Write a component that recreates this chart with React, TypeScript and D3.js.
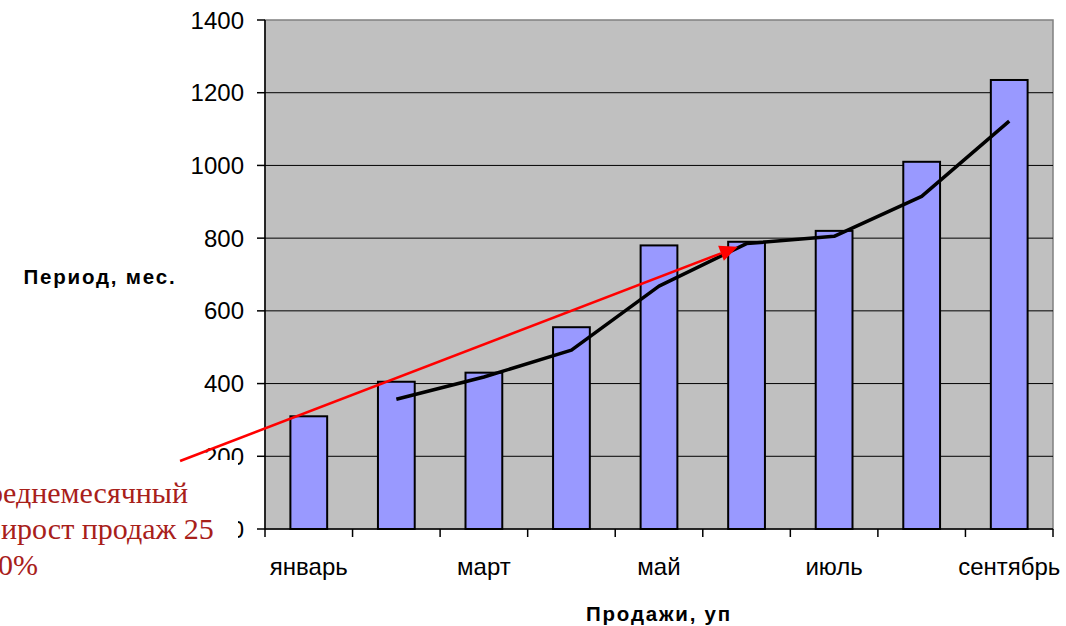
import React from "react";
import * as d3 from "d3";

// Monthly sales figures
const months = ["январь", "февраль", "март", "апрель", "май", "июнь", "июль", "август", "сентябрь"];
const sales = [310, 405, 430, 555, 780, 790, 820, 1010, 1235];
// Two-period moving average, from февраль to сентябрь
const movingAvgMonths = months.slice(1);
const movingAvg = [357, 418, 492, 668, 785, 805, 915, 1122];
const yTicks = [0, 200, 400, 600, 800, 1000, 1200, 1400];
const labeledMonths = ["январь", "март", "май", "июль", "сентябрь"];
// Annotation arrow, in (month index, value) units
const arrowFrom = { i: -0.97, v: 187 };
const arrowTo = { i: 5.4, v: 776 };
const noteLines = [
  { text: "Среднемесячный", x: -32 },
  { text: "прирост продаж 25", x: -30 },
  { text: "0%", x: -2 },
];

const W = 1066;
const H = 626;
const plot = { left: 265, right: 1053, top: 20, bottom: 529 };
const sans = "Arial, 'Liberation Sans', sans-serif";

export default function App() {
  const x = d3.scaleBand<string>().domain(months).range([plot.left, plot.right]).padding(0);
  const xi = d3.scaleLinear().domain([0, months.length]).range([plot.left, plot.right]);
  const y = d3.scaleLinear().domain([0, 1400]).range([plot.bottom, plot.top]);
  const bw = x.bandwidth() * 0.42;

  const line = d3
    .line<number>()
    .x((_, k) => (x(movingAvgMonths[k]) as number) + x.bandwidth() / 2)
    .y((d) => y(d));

  const ax1 = xi(arrowFrom.i), ay1 = y(arrowFrom.v);
  const ax2 = xi(arrowTo.i), ay2 = y(arrowTo.v);
  const ang = Math.atan2(ay2 - ay1, ax2 - ax1);
  const headLen = 18, headW = 8;
  const bx = ax2 - headLen * Math.cos(ang), by = ay2 - headLen * Math.sin(ang);
  const head = [
    [ax2, ay2],
    [bx + headW * Math.sin(ang), by - headW * Math.cos(ang)],
    [bx - headW * Math.sin(ang), by + headW * Math.cos(ang)],
  ];

  const boundaries = d3.range(months.length + 1).map((k) => xi(k));

  return (
    <svg
      width={W}
      height={H}
      style={{ position: "absolute", left: 0, top: 0, background: "#fff" }}
      fontFamily={sans}
    >
      <rect x={0} y={0} width={W} height={H} fill="#fff" />
      {/* plot area */}
      <rect
        x={plot.left}
        y={plot.top}
        width={plot.right - plot.left}
        height={plot.bottom - plot.top}
        fill="#C0C0C0"
        stroke="#808080"
        strokeWidth={1.5}
      />
      {/* gridlines */}
      {yTicks.slice(1, -1).map((t) => (
        <line key={t} x1={plot.left} x2={plot.right} y1={y(t)} y2={y(t)} stroke="#000" strokeWidth={1} />
      ))}
      {/* bars */}
      {months.map((m, k) => (
        <rect
          key={m}
          x={(x(m) as number) + (x.bandwidth() - bw) / 2}
          y={y(sales[k])}
          width={bw}
          height={y(0) - y(sales[k])}
          fill="#9999FF"
          stroke="#000"
          strokeWidth={2}
        />
      ))}
      {/* axes */}
      <line x1={plot.left} x2={plot.left} y1={plot.top} y2={plot.bottom} stroke="#000" strokeWidth={1.5} />
      <line x1={plot.left} x2={plot.right} y1={plot.bottom} y2={plot.bottom} stroke="#000" strokeWidth={1.5} />
      {yTicks.map((t) => (
        <g key={t}>
          <line x1={plot.left - 8} x2={plot.left} y1={y(t)} y2={y(t)} stroke="#000" strokeWidth={1.5} />
          <text x={plot.left - 21} y={y(t)} dy="0.36em" textAnchor="end" fontSize={24} fill="#000">
            {t}
          </text>
        </g>
      ))}
      {boundaries.map((bx0, k) => (
        <line key={k} x1={bx0} x2={bx0} y1={plot.bottom} y2={plot.bottom + 8} stroke="#000" strokeWidth={1.5} />
      ))}
      {labeledMonths.map((m) => (
        <text
          key={m}
          x={(x(m) as number) + x.bandwidth() / 2}
          y={575}
          textAnchor="middle"
          fontSize={24}
          fill="#000"
        >
          {m}
        </text>
      ))}
      {/* moving average */}
      <path d={line(movingAvg) || ""} fill="none" stroke="#000" strokeWidth={3.5} strokeLinejoin="round" />
      {/* axis titles */}
      <text x={100} y={284} textAnchor="middle" fontSize={20.5} fontWeight="bold" letterSpacing={1.8}>
        Период, мес.
      </text>
      <text x={(plot.left + plot.right) / 2} y={621} textAnchor="middle" fontSize={20.5} fontWeight="bold" letterSpacing={1.8}>
        Продажи, уп
      </text>
      {/* note box */}
      <rect x={0} y={460} width={238} height={166} fill="#fff" />
      {noteLines.map((l, k) => (
        <text
          key={k}
          x={l.x}
          y={503 + k * 36}
          fontFamily="'Times New Roman', 'Liberation Serif', serif"
          fontSize={30}
          fill="#A8201A"
        >
          {l.text}
        </text>
      ))}
      {/* annotation arrow */}
      <line x1={ax1} y1={ay1} x2={bx} y2={by} stroke="#FF0000" strokeWidth={2.5} />
      <polygon points={head.map((p) => p.join(",")).join(" ")} fill="#FF0000" />
    </svg>
  );
}
